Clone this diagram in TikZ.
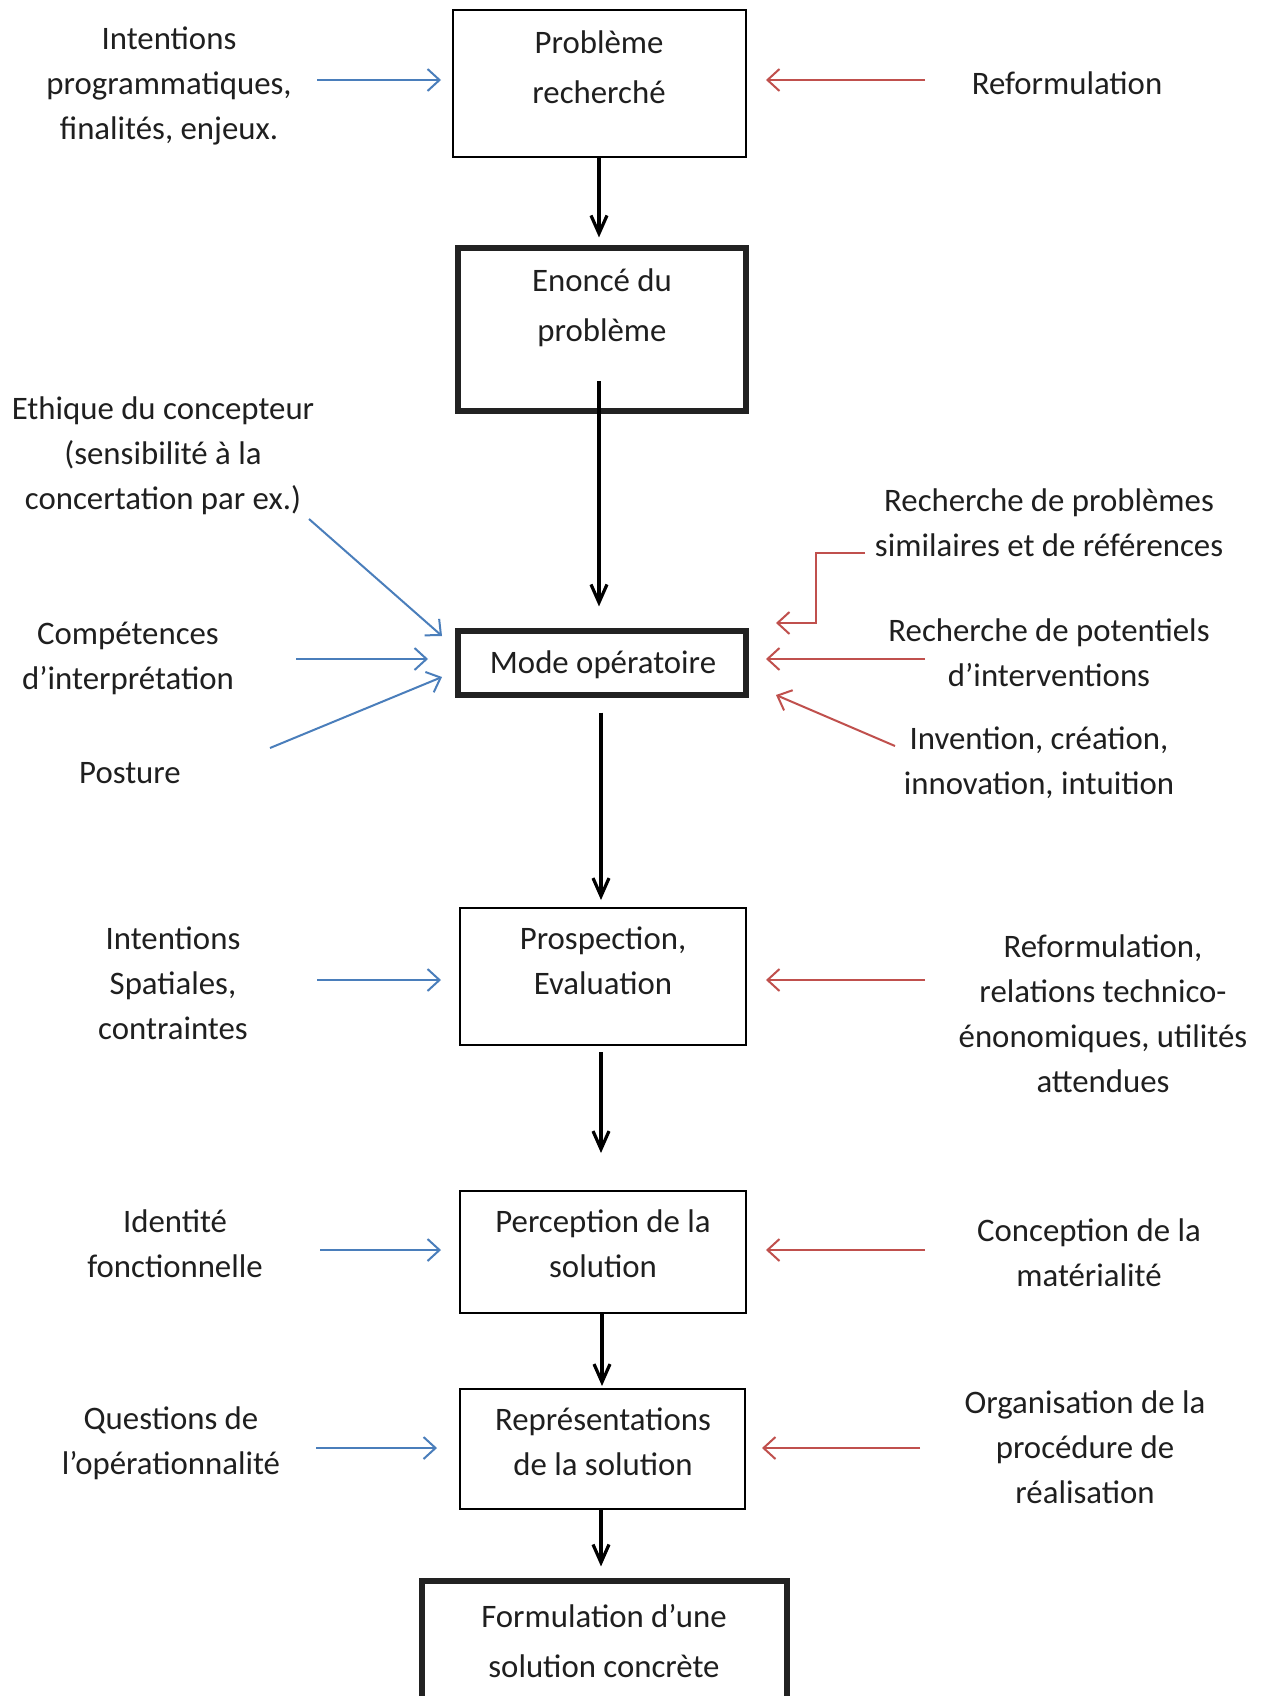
\documentclass[tikz,border=0pt]{standalone}
\usepackage{fontspec}
\setmainfont{Carlito}
\usetikzlibrary{arrows.meta}
\definecolor{cblue}{HTML}{4A7EBB}
\definecolor{cred}{HTML}{C0504D}
\definecolor{boxdark}{HTML}{222222}
\begin{document}
\begin{tikzpicture}[x=0.5pt,y=-0.5pt,
 txt/.style={align=center,font=\fontsize{16.4}{22.5}\selectfont,inner sep=0pt,text=black!88},
 wide/.style={font=\fontsize{16.4}{25}\selectfont},
 thinbox/.style={draw=black,line width=1pt,inner sep=0pt},
 thickbox/.style={draw=boxdark,line width=2.6pt,inner sep=0pt},
 flow/.style={line width=1.6pt,-{Straight Barb[length=9pt,width=8pt,line width=1.6pt]}},
 inb/.style={cblue,line width=1pt,-{Straight Barb[length=6pt,width=11pt,line width=1pt]}},
 inr/.style={cred,line width=1pt,-{Straight Barb[length=6pt,width=11pt,line width=1pt]}}]
\clip (0,0) rectangle (1263,1696);
\fill[white] (0,0) rectangle (1263,1696);

% boxes
\node[thinbox,minimum width=146.5pt,minimum height=73.5pt] (b1) at (599.5,83.5) {};
\node[thickbox,minimum width=144pt,minimum height=81.5pt] (b2) at (602,329.5) {};
\node[thickbox,minimum width=144pt,minimum height=32pt] (b3) at (602,663) {};
\node[thinbox,minimum width=143pt,minimum height=68.5pt] (b4) at (603,976.5) {};
\node[thinbox,minimum width=143pt,minimum height=61pt] (b5) at (603,1252) {};
\node[thinbox,minimum width=142.5pt,minimum height=60pt] (b6) at (602.5,1449) {};
\node[thickbox,minimum width=182.5pt,minimum height=72pt] (b7) at (604.5,1653) {};

% box texts
\node[txt,wide] (t1) at (599,67) {Problème\\recherché};
\node[txt,wide] (t2) at (602,308) {Enoncé du\\problème};
\node[txt] (t3) at (603,665) {Mode opératoire};
\node[txt] (t4) at (603,961) {Prospection,\\Evaluation};
\node[txt] (t5) at (603,1244) {Perception de la\\solution};
\node[txt] (t6) at (603,1442) {Représentations\\de la solution};
\node[txt,wide] (t7) at (604,1641) {Formulation d’une\\solution concrète};

% flow arrows
\coordinate (s23) at (599,381);
\draw[flow,shorten >=4pt] (b1.south -| 599,0) -- (b2.north -| 599,0);
\draw[flow,shorten >=11pt] (s23) -- (b3.north -| s23);
\draw[flow,shorten <=7.5pt,shorten >=3.5pt] (b3.south -| 601,0) -- (b4.north -| 601,0);
\draw[flow,shorten <=3pt,shorten >=18.5pt] (b4.south -| 601,0) -- (b5.north -| 601,0);
\draw[flow,shorten >=1pt] (b5.south -| 602,0) -- (b6.north -| 602,0);
\draw[flow,shorten >=6pt] (b6.south -| 601,0) -- (b7.north -| 601,0);

% left labels
\node[txt] (l1) at (169,86) {Intentions\\programmatiques,\\finalités, enjeux.};
\node[txt] (l2) at (163,456) {Ethique du concepteur\\(sensibilité à la\\concertation par ex.)};
\node[txt] (l3) at (128,658) {Compétences\\d’interprétation};
\node[txt] (l4) at (130,773) {Posture};
\node[txt] (l5) at (173,983) {Intentions\\Spatiales,\\contraintes};
\node[txt] (l6) at (175,1244) {Identité\\fonctionnelle};
\node[txt] (l7) at (171,1443) {Questions de\\l’opérationnalité};

% right labels
\node[txt] (r1) at (1067,83) {Reformulation};
\node[txt] (r2) at (1049,523) {Recherche de problèmes\\similaires et de références};
\node[txt] (r3) at (1049,653) {Recherche de potentiels\\d’interventions};
\node[txt] (r4) at (1039,763) {Invention, création,\\innovation, intuition};
\node[txt] (r5) at (1103,1014) {Reformulation,\\relations technico-\\énonomiques, utilités\\attendues};
\node[txt] (r6) at (1089,1253) {Conception de la\\matérialité};
\node[txt] (r7) at (1085,1447) {Organisation de la\\procédure de\\réalisation};

% blue arrows
\coordinate (bl1s) at (317,80);   \coordinate (bl1e) at (441,80);
\coordinate (bl2s) at (309,519);  \coordinate (bl2e) at (442,636);
\coordinate (bl3s) at (296,659);  \coordinate (bl3e) at (428,659);
\coordinate (bl4s) at (270,748);  \coordinate (bl4e) at (442,677);
\coordinate (bl5s) at (317,980);  \coordinate (bl5e) at (441,980);
\coordinate (bl6s) at (320,1250); \coordinate (bl6e) at (441,1250);
\coordinate (bl7s) at (316,1448); \coordinate (bl7e) at (437,1448);
\draw[inb] (bl1s) -- (bl1e);
\draw[inb] (bl2s) -- (bl2e);
\draw[inb] (bl3s) -- (bl3e);
\draw[inb] (bl4s) -- (bl4e);
\draw[inb] (bl5s) -- (bl5e);
\draw[inb] (bl6s) -- (bl6e);
\draw[inb] (bl7s) -- (bl7e);

% red arrows
\coordinate (rd1s) at (925,80);   \coordinate (rd1e) at (766,80);
\coordinate (rd2s) at (865,553);  \coordinate (rd2e) at (776,623);
\coordinate (rd3s) at (925,659);  \coordinate (rd3e) at (766,659);
\coordinate (rd4s) at (895,746);  \coordinate (rd4e) at (776,695);
\coordinate (rd5s) at (925,980);  \coordinate (rd5e) at (766,980);
\coordinate (rd6s) at (925,1250); \coordinate (rd6e) at (766,1250);
\coordinate (rd7s) at (920,1448); \coordinate (rd7e) at (762,1448);
\draw[inr] (rd1s) -- (rd1e);
\draw[inr] (rd2s) -- (816,553) -- (816,623) -- (rd2e);
\draw[inr] (rd3s) -- (rd3e);
\draw[inr] (rd4s) -- (rd4e);
\draw[inr] (rd5s) -- (rd5e);
\draw[inr] (rd6s) -- (rd6e);
\draw[inr] (rd7s) -- (rd7e);
\end{tikzpicture}
\end{document}
